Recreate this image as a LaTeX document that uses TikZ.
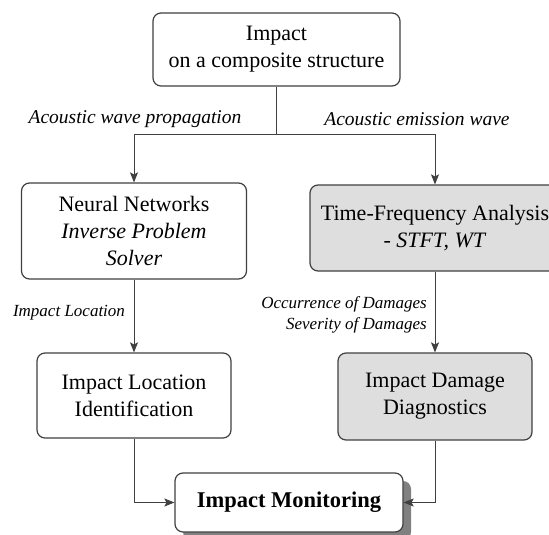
\documentclass[tikz,border=0pt]{standalone}
\usepackage{fontspec}
\setmainfont{Liberation Serif}
\usetikzlibrary{arrows.meta,shadows}
\begin{document}
\begin{tikzpicture}[x=1pt,y=-1pt,
 box/.style={draw=black!75, fill=white, line width=1.2pt, rounded corners=8pt, align=center, inner sep=0pt, font=\fontsize{22}{27}\selectfont},
 graybox/.style={box, fill=black!13},
 conn/.style={draw=black!75, line width=1pt, -{Stealth[length=10pt,width=8pt,inset=2pt]}},
 plain/.style={draw=black!75, line width=1pt},
 lab/.style={font=\fontsize{19.5}{23}\selectfont\itshape, inner sep=0pt},
 slab/.style={font=\fontsize{17}{21}\selectfont\itshape, inner sep=0pt, align=right}]
\useasboundingbox (0,0) rectangle (549,535);
\node[box, minimum width=247pt, minimum height=73pt] (top) at (276.5,49.5) {Impact\\on a composite structure};
\node[box, minimum width=225pt, minimum height=96pt] (nn) at (134,231) {Neural Networks\\\textit{Inverse Problem}\\\textit{Solver}};
\node[graybox, minimum width=250pt, minimum height=86pt] (tfa) at (435,228) {Time-Frequency Analysis\\\textit{- STFT, WT}};
\node[box, minimum width=194pt, minimum height=85pt] (ili) at (134,395.5) {Impact Location\\Identification};
\node[graybox, minimum width=194pt, minimum height=87pt] (idd) at (435,396.5) {Impact Damage\\Diagnostics};
\node[box, minimum width=228pt, minimum height=59pt, font=\fontsize{22.5}{27}\selectfont\bfseries,
      drop shadow={shadow xshift=8pt, shadow yshift=-8pt, fill=black!50, opacity=1}] (mon) at (289,502.5) {Impact Monitoring};
\coordinate (split) at (276.5,134);
\draw[plain] (top.south) -- (split);
\draw[conn] (split) -| (nn.north);
\draw[conn] (split) -| (tfa.north);
\draw[conn] (nn.south) -- (ili.north);
\draw[conn] (tfa.south) -- (idd.north);
\draw[conn] (ili.south) |- (mon.west);
\draw[conn] (idd.south) |- (mon.east);
\node[lab] (l1) at (135,119) {Acoustic wave propagation};
\node[lab] (l2) at (417,119) {Acoustic emission wave};
\node[slab] (l3) at (69,313) {Impact Location};
\node[slab, anchor=east] (l4) at (427,314.5) {Occurrence of Damages\\Severity of Damages};
\end{tikzpicture}
\end{document}
